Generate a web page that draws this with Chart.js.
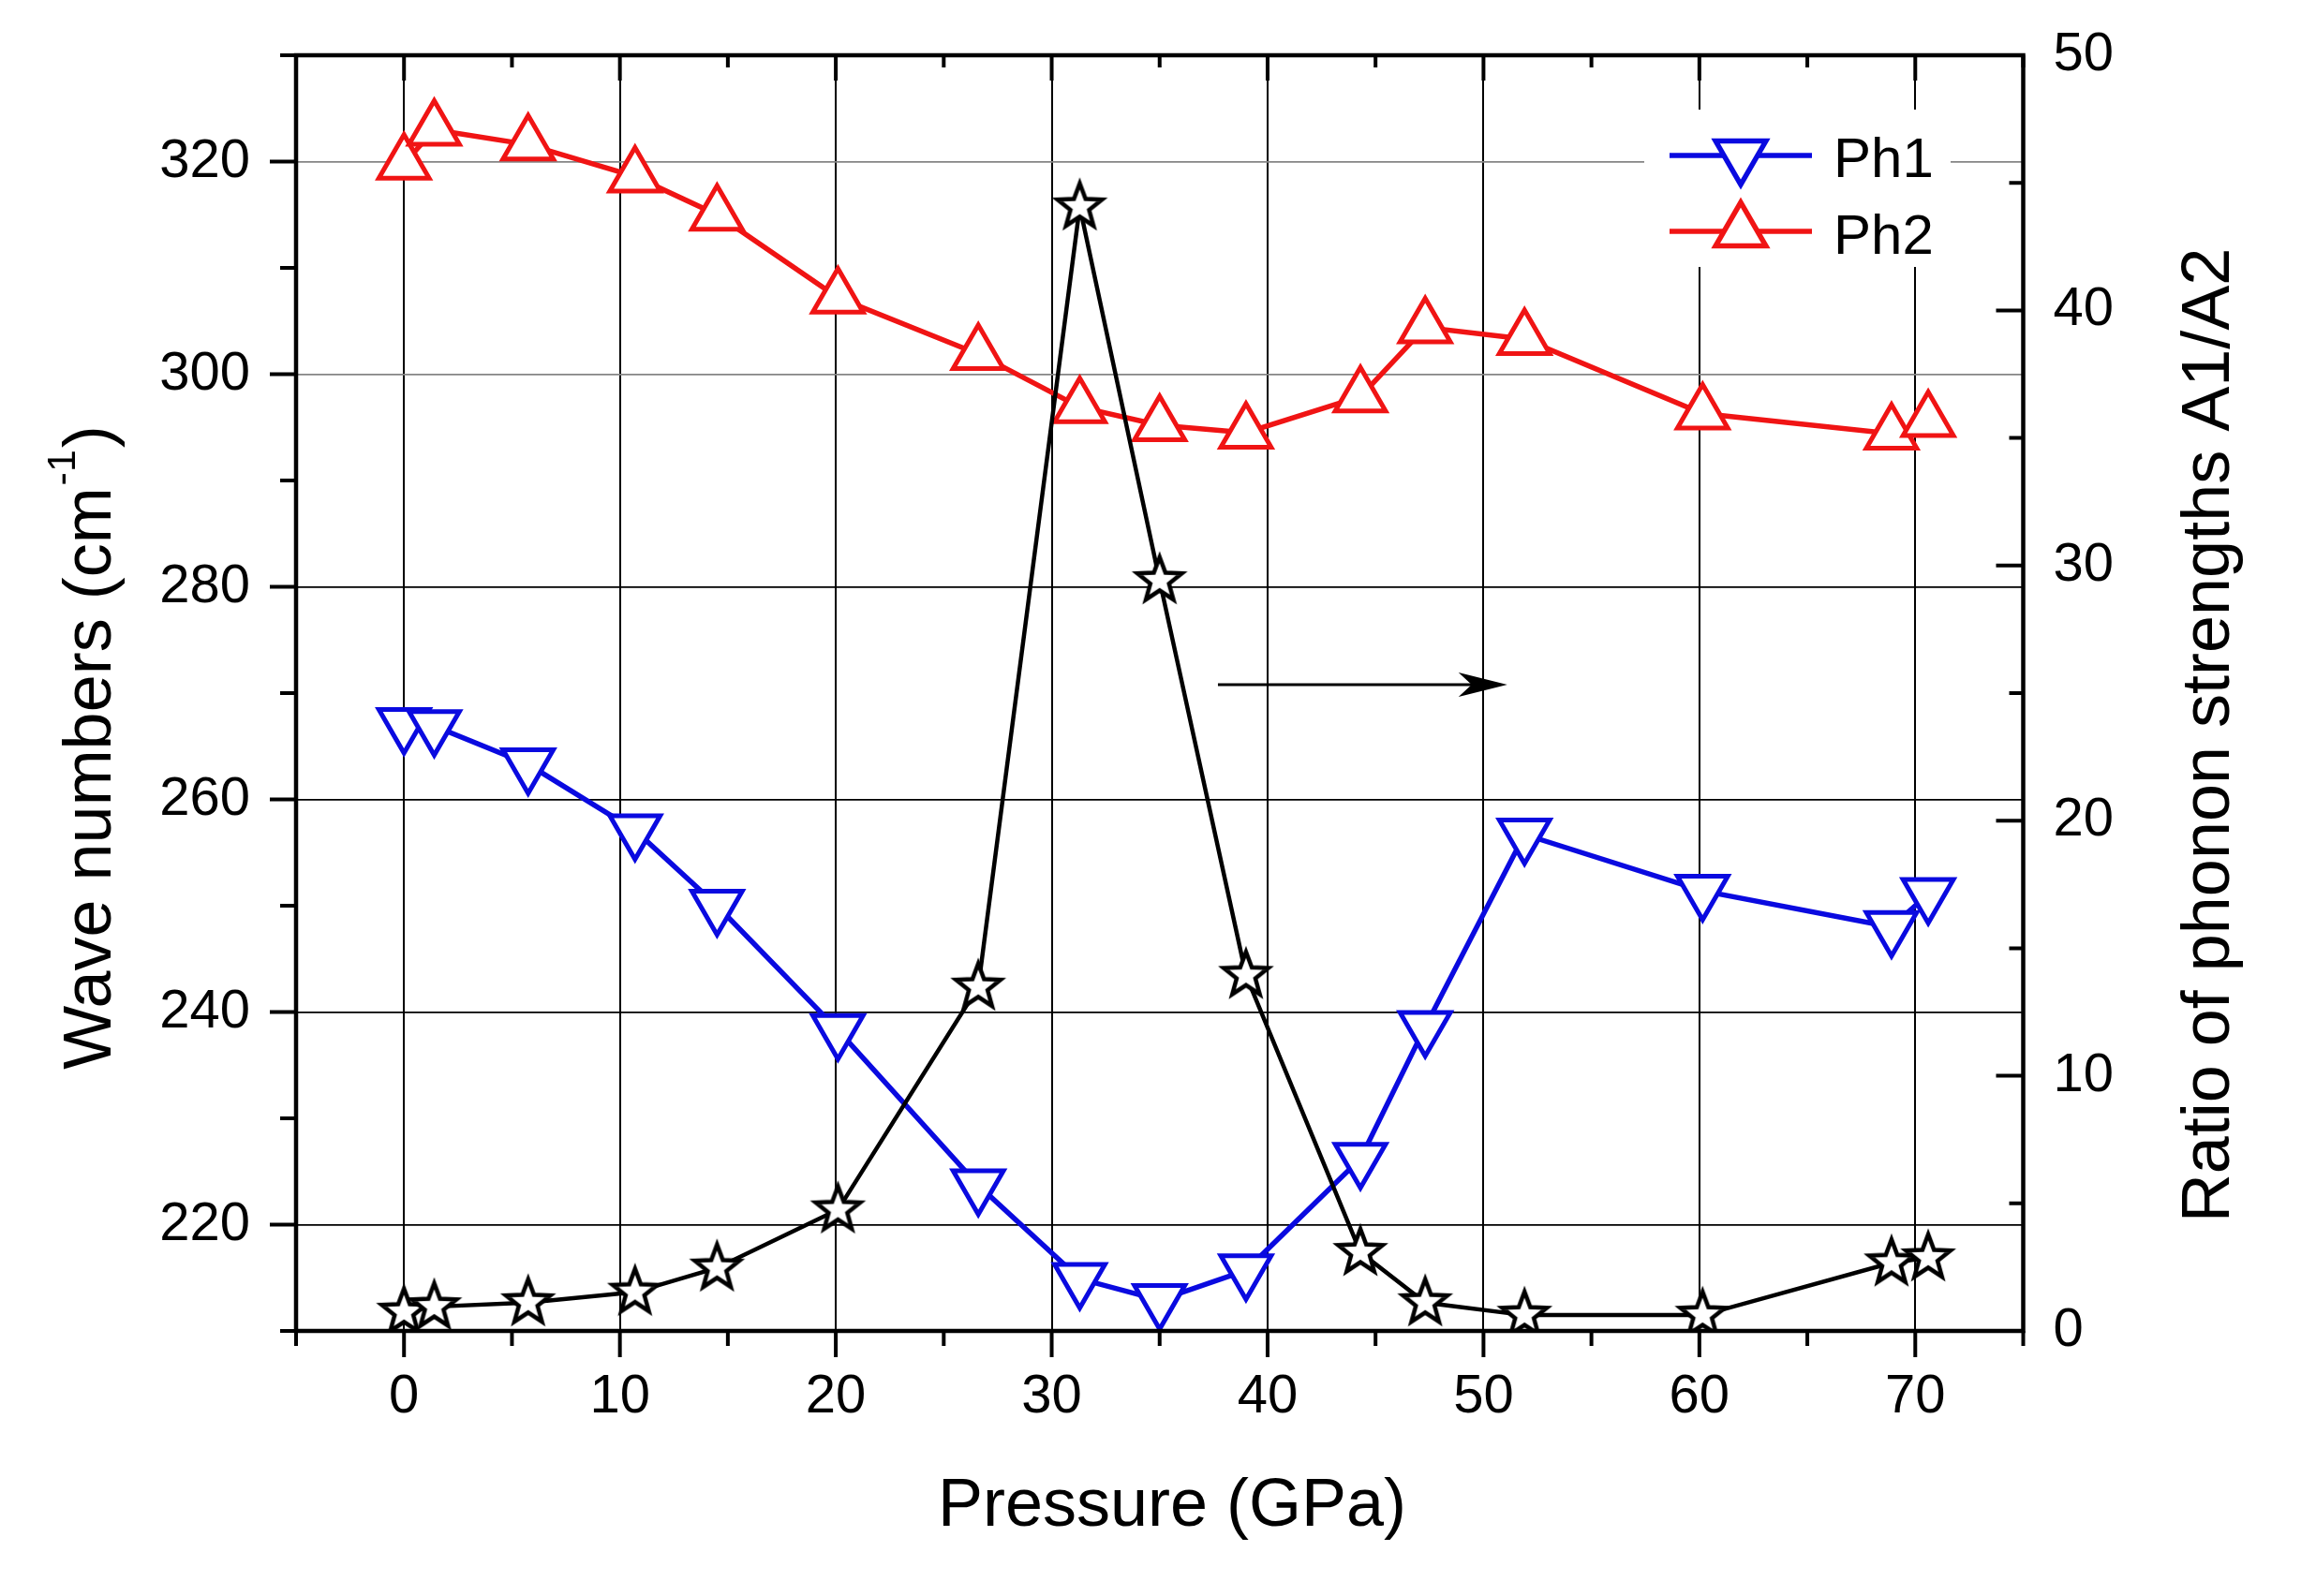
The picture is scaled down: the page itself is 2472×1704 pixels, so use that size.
<!DOCTYPE html>
<html>
<head>
<meta charset="utf-8">
<script src="https://cdn.jsdelivr.net/npm/chart.js@4/dist/chart.umd.min.js"></script>
<style>
    html, body { margin: 0; padding: 0; background: #fff; }
    #wrap { width: 2472px; height: 1704px; position: relative; }
</style>
</head>
<body>
<div id="wrap"><canvas id="phonons"></canvas></div>
<script>
// values
const pressure = [0, 1.4, 5.75, 10.7, 14.5, 20.1, 26.6, 31.3, 35.0, 39.0, 44.3, 47.3, 51.9, 60.15, 68.9, 70.6]
const ph1 = [267.1, 266.9, 263.3, 257.1, 250.0, 238.3, 223.7, 214.9, 212.9, 215.7, 226.2, 238.6, 256.7, 251.4, 248.0, 251.1]
const ph2 = [319.8, 323.0, 321.6, 318.6, 315.0, 307.2, 301.9, 296.9, 295.2, 294.5, 297.9, 304.4, 303.3, 296.3, 294.4, 295.6]
const ratio = [0.74, 0.95, 1.11, 1.52, 2.47, 4.75, 13.48, 44.06, 29.41, 13.94, 3.08, 1.11, 0.62, 0.62, 2.67, 2.87]

const xTicks = [0, 10, 20, 30, 40, 50, 60, 70]
const leftTicks = [220, 240, 260, 280, 300, 320]
const rightTicks = [0, 10, 20, 30, 40, 50]
const seriesNames = ["Ph1", "Ph2"]

// arrow pointing to the right axis (pressure, wave number)
const arrowFrom = [37.7, 270.8]
const arrowTo = [51.1, 270.8]

const FONT = "'Liberation Sans', Arial, sans-serif"
const BLUE = "#0a0ae0"
const RED = "#f01414"

function makeStar(){
    let c = document.createElement("canvas")
    c.width = 66
    c.height = 66
    let g = c.getContext("2d")
    let R = 25, r = 10.5
    g.beginPath()
    for (let i = 0; i < 10; i++){
        let a = -Math.PI / 2 + i * Math.PI / 5
        let rr = (i % 2 == 0) ? R : r
        let px = 33 + Math.cos(a) * rr
        let py = 33 + Math.sin(a) * rr
        if (i == 0) g.moveTo(px, py)
        else g.lineTo(px, py)
    }
    g.closePath()
    g.fillStyle = "#fff"
    g.fill()
    g.lineWidth = 4.5
    g.lineJoin = "miter"
    g.strokeStyle = "#000"
    g.stroke()
    return c
}

function pts(ys){
    return pressure.map((p, i) => ({x: p, y: ys[i]}))
}

function triangle(ctx, x, y, r, down){
    let rot = down ? Math.PI : 0
    ctx.beginPath()
    for (let i = 0; i < 3; i++){
        let a = rot + i * 2 * Math.PI / 3
        let px = x + Math.sin(a) * r
        let py = y - Math.cos(a) * r
        if (i == 0) ctx.moveTo(px, py)
        else ctx.lineTo(px, py)
    }
    ctx.closePath()
    ctx.fill()
    ctx.stroke()
}

function noPad(s){
    s.paddingTop = 0
    s.paddingBottom = 0
    s.paddingLeft = 0
    s.paddingRight = 0
}

const framePlugin = {
    id: "frame",
    afterDraw(chart){
        let ctx = chart.ctx
        let a = chart.chartArea
        let xs = chart.scales.x, yl = chart.scales.y, yr = chart.scales.y2
        ctx.save()
        ctx.strokeStyle = "#000"
        ctx.lineWidth = 4.5
        ctx.strokeRect(a.left, a.top, a.right - a.left, a.bottom - a.top)
        ctx.lineWidth = 4
        ctx.beginPath()
        for (let v = -5; v <= 75; v += 5){
            let px = xs.getPixelForValue(v)
            let major = v % 10 == 0
            ctx.moveTo(px, a.bottom)
            ctx.lineTo(px, a.bottom + (major ? 28 : 16))
            ctx.moveTo(px, a.top)
            ctx.lineTo(px, a.top + (major ? 27 : 13))
        }
        for (let v = 210; v <= 330; v += 10){
            let py = yl.getPixelForValue(v)
            ctx.moveTo(a.left, py)
            ctx.lineTo(a.left - (v % 20 == 0 ? 28 : 17), py)
        }
        for (let v = 0; v <= 50; v += 5){
            let py = yr.getPixelForValue(v)
            ctx.moveTo(a.right, py)
            ctx.lineTo(a.right - (v % 10 == 0 ? 29 : 15), py)
        }
        ctx.stroke()

        // axis titles
        ctx.fillStyle = "#000"
        ctx.textBaseline = "alphabetic"
        ctx.font = "72px " + FONT
        ctx.textAlign = "center"
        ctx.fillText("Pressure (GPa)", 1251, 1629)

        ctx.save()
        ctx.translate(2379, 785)
        ctx.rotate(-Math.PI / 2)
        ctx.fillText("Ratio of phonon strengths A1/A2", 0, 0)
        ctx.restore()

        ctx.save()
        ctx.translate(118, 800)
        ctx.rotate(-Math.PI / 2)
        ctx.textAlign = "left"
        let part1 = "Wave numbers (cm", sup = "-1", part2 = ")"
        ctx.font = "72px " + FONT
        let w1 = ctx.measureText(part1).width
        let w3 = ctx.measureText(part2).width
        ctx.font = "43px " + FONT
        let w2 = ctx.measureText(sup).width
        let sx = -(w1 + w2 + w3) / 2
        ctx.font = "72px " + FONT
        ctx.fillText(part1, sx, 0)
        ctx.font = "43px " + FONT
        ctx.fillText(sup, sx + w1 + 2, -38)
        ctx.font = "72px " + FONT
        ctx.fillText(part2, sx + w1 + w2 + 4, 0)
        ctx.restore()
        ctx.restore()
    }
}

const extrasPlugin = {
    id: "extras",
    afterDatasetsDraw(chart){
        let ctx = chart.ctx
        let xs = chart.scales.x, yl = chart.scales.y
        ctx.save()

        // arrow
        let x1 = xs.getPixelForValue(arrowFrom[0]), y1 = yl.getPixelForValue(arrowFrom[1])
        let x2 = xs.getPixelForValue(arrowTo[0]), y2 = yl.getPixelForValue(arrowTo[1])
        ctx.strokeStyle = "#000"
        ctx.fillStyle = "#000"
        ctx.lineWidth = 3
        ctx.beginPath()
        ctx.moveTo(x1, y1)
        ctx.lineTo(x2 - 30, y2)
        ctx.stroke()
        ctx.beginPath()
        ctx.moveTo(x2, y2)
        ctx.lineTo(x2 - 52, y2 - 13)
        ctx.lineTo(x2 - 38, y2)
        ctx.lineTo(x2 - 52, y2 + 13)
        ctx.closePath()
        ctx.fill()

        // legend
        ctx.fillStyle = "#fff"
        ctx.fillRect(1755, 117, 327, 168)
        let rows = [[BLUE, 166, true, 189], [RED, 247, false, 271]]
        ctx.font = "60px " + FONT
        ctx.textAlign = "left"
        ctx.textBaseline = "alphabetic"
        rows.forEach((row, i) => {
            ctx.strokeStyle = row[0]
            ctx.lineWidth = 5.5
            ctx.beginPath()
            ctx.moveTo(1782, row[1])
            ctx.lineTo(1934, row[1])
            ctx.stroke()
            ctx.fillStyle = "#fff"
            triangle(ctx, 1858, row[1], 31, row[2])
            ctx.fillStyle = "#000"
            ctx.fillText(seriesNames[i], 1957, row[3])
        })
        ctx.restore()
    }
}

let star = makeStar()

let chartEl = document.getElementById("phonons")
let myChart = new Chart(chartEl, {
    type: "line",
    data: {
        datasets: [{
            label: "A1/A2",
            data: pts(ratio),
            yAxisID: "y2",
            borderColor: "#000",
            borderWidth: 4.5,
            pointStyle: star,
            pointRadius: 25,
            pointBackgroundColor: "#fff",
            pointBorderColor: "#000",
            tension: 0
        }, {
            label: seriesNames[0],
            data: pts(ph1),
            yAxisID: "y",
            borderColor: BLUE,
            borderWidth: 5.5,
            pointStyle: "triangle",
            pointRotation: 180,
            pointRadius: 31,
            pointBorderWidth: 5,
            pointBackgroundColor: "#fff",
            pointBorderColor: BLUE,
            tension: 0
        }, {
            label: seriesNames[1],
            data: pts(ph2),
            yAxisID: "y",
            borderColor: RED,
            borderWidth: 5.5,
            pointStyle: "triangle",
            pointRadius: 31,
            pointBorderWidth: 5,
            pointBackgroundColor: "#fff",
            pointBorderColor: RED,
            tension: 0
        }]
    },
    options: {
        responsive: true,
        maintainAspectRatio: false,
        animation: false,
        devicePixelRatio: 1,
        layout: {
            padding: {top: 59, left: 0, right: 0, bottom: 0}
        },
        plugins: {
            legend: {display: false},
            tooltip: {enabled: false}
        },
        scales: {
            x: {
                type: "linear",
                min: -5,
                max: 75,
                afterBuildTicks: s => { s.ticks = xTicks.map(v => ({value: v})) },
                afterFit: s => { s.height = 283; noPad(s) },
                border: {display: false},
                grid: {color: "#000", lineWidth: 2, drawTicks: false},
                ticks: {
                    padding: 36,
                    color: "#000",
                    font: {size: 58, family: FONT},
                    maxRotation: 0
                }
            },
            y: {
                type: "linear",
                position: "left",
                min: 210,
                max: 330,
                afterBuildTicks: s => { s.ticks = leftTicks.map(v => ({value: v})) },
                afterFit: s => { s.width = 316; noPad(s) },
                border: {display: false},
                grid: {
                    color: c => (c.tick && c.tick.value >= 300) ? "#858585" : "#000",
                    lineWidth: 1.8,
                    drawTicks: false
                },
                ticks: {
                    padding: 49,
                    color: "#000",
                    font: {size: 58, family: FONT}
                }
            },
            y2: {
                type: "linear",
                position: "right",
                min: 0,
                max: 50,
                afterBuildTicks: s => { s.ticks = rightTicks.map(v => ({value: v})) },
                afterFit: s => { s.width = 312.5; noPad(s) },
                border: {display: false},
                grid: {display: false, drawTicks: false},
                ticks: {
                    padding: 32,
                    color: "#000",
                    font: {size: 58, family: FONT}
                }
            }
        }
    },
    plugins: [extrasPlugin, framePlugin]
})
</script>
</body>
</html>
